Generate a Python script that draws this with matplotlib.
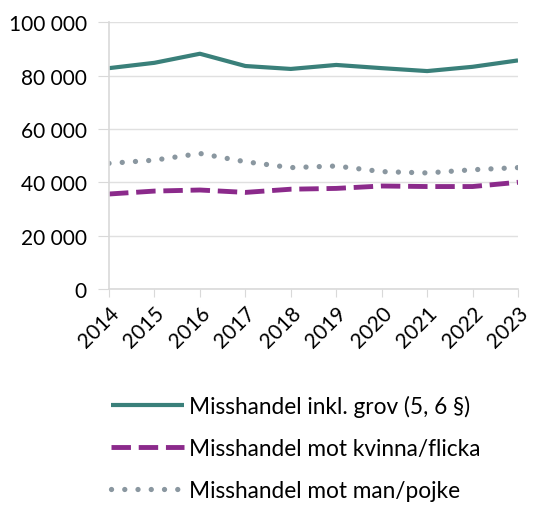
import matplotlib
matplotlib.use("Agg")
import matplotlib.pyplot as plt
from matplotlib.ticker import FuncFormatter

# data
years = [2014, 2015, 2016, 2017, 2018, 2019, 2020, 2021, 2022, 2023]
totalt = [82800, 84800, 88200, 83600, 82500, 84000, 82800, 81700, 83300, 85700]
kvinna = [35600, 36700, 37100, 36200, 37400, 37700, 38600, 38400, 38400, 40000]
man = [47100, 48300, 50800, 47700, 45500, 46100, 44000, 43500, 44700, 45500]

labels = ["Misshandel inkl. grov (5, 6 §)",
          "Misshandel mot kvinna/flicka",
          "Misshandel mot man/pojke"]

plt.rcParams['font.family'] = ['Lato', 'DejaVu Sans']

fig = plt.figure(figsize=(5.41, 5.06), dpi=100)
ax = fig.add_axes([0.2015, 0.427, 0.756, 0.527])

ax.plot(years, totalt, color="#3a807a", lw=3, label=labels[0], solid_capstyle="butt")
ax.plot(years, kvinna, color="#8b2a8b", lw=3.5, ls=(0, (4, 1.6)), label=labels[1])
ax.plot(years, man, color="#8a97a0", lw=3.8, ls=(0, (0.01, 2.5)), dash_capstyle="round", label=labels[2])

ax.set_xlim(2014, 2023)
ax.set_ylim(0, 100000)
ax.set_yticks(range(0, 100001, 20000))
ax.yaxis.set_major_formatter(FuncFormatter(lambda v, p: f"{int(v):,}".replace(",", " ")))
ax.set_xticks(years)
ax.set_xticklabels([str(y) for y in years], rotation=45, ha="right", va="top", rotation_mode="anchor")

ax.grid(axis="y", color="#e0e0e0", lw=1)
ax.set_axisbelow(True)
for s in ["top", "right"]:
    ax.spines[s].set_visible(False)
ax.spines["left"].set_color("#d9d9d9")
ax.spines["bottom"].set_color("#d9d9d9")
ax.spines["left"].set_linewidth(1.2)
ax.spines["bottom"].set_linewidth(1.2)
ax.tick_params(axis="y", length=8, color="#d9d9d9", labelsize=15, pad=8)
ax.tick_params(axis="x", length=6, color="#d9d9d9", labelsize=15, pad=4)

fig.legend(loc="upper left", bbox_to_anchor=(0.168, 0.258), frameon=False,
           fontsize=16.3, handlelength=3.2, handletextpad=0.22, labelspacing=0.93)

fig.savefig("out.png", dpi=100)
